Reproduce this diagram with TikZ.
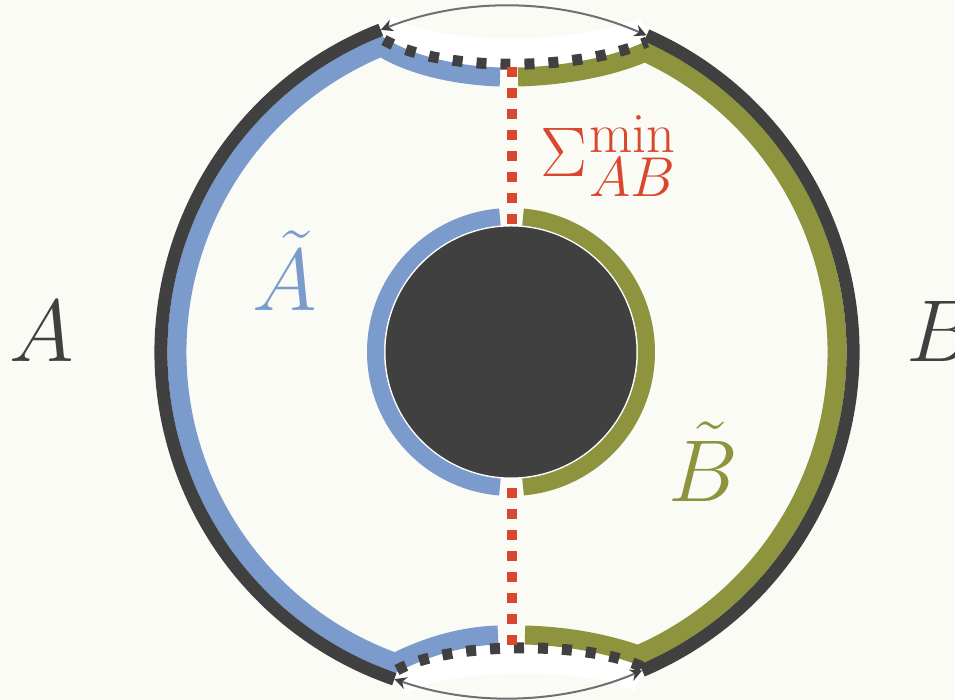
\RequirePackage{fix-cm}
\documentclass[tikz,border=0pt]{standalone}
\usepackage{tikz}
\usetikzlibrary{arrows.meta, calc}

\definecolor{bgpaper}{HTML}{FAFBF5}
\definecolor{darkline}{HTML}{404040}
\definecolor{regionA}{HTML}{7A9BCB}
\definecolor{regionB}{HTML}{8D943D}
\definecolor{surface}{HTML}{D9482E}
\definecolor{thinarc}{HTML}{707070}

\newcommand{\scriptbig}[1]{\hbox{\fontsize{32}{36}\selectfont$#1$}}

\begin{document}
\begin{tikzpicture}[
    x=0.2mm, y=0.2mm,
    boundary/.style={draw=darkline, line width=2.6mm},
    band/.style={line width=3.8mm, line join=miter},
    ring/.style={line width=3.4mm},
    cutline/.style={draw=darkline, line width=2.2mm, dash pattern=on 2mm off 2.8mm},
    minsurf/.style={draw=surface, line width=2mm, dash pattern=on 2mm off 2.2mm},
    gapband/.style={draw=white, line width=7mm},
    outer/.style={draw=thinarc, line width=0.4mm, {Stealth[length=2.4mm, width=2.4mm, color=darkline]}-{Stealth[length=2.4mm, width=2.4mm, color=darkline]}},
    lbl/.style={inner sep=0pt, anchor=base, font=\fontsize{50}{60}\selectfont}
]

% Paper (fixes the picture size)
\useasboundingbox (-507,-348) rectangle (448,352);
\fill[bgpaper] (-507,-348) rectangle (448,352);

% End points of the cuts and kinks of the bands
\coordinate (cutTL) at (-123,312);
\coordinate (cutTR) at (140,310);
\coordinate (cutBL) at (-110,-318);
\coordinate (cutBR) at (135,-315);
\coordinate (kinkA) at (112.4:330);
\coordinate (kinkB) at (65.3:330);
\coordinate (endAtop) at (-7,275);
\coordinate (endAbot) at (-9,-283);
\coordinate (endBtop) at (11,275);
\coordinate (endBbot) at (18,-283);

% White strips under the dashed cuts
\draw[gapband] ($(cutTL)+(0,8)$) .. controls (-67,288) and (68,288) .. ($(cutTR)+(0,8)$);
\draw[gapband] ($(cutBL)+(0,-8)$) .. controls (-57,-297) and (83,-297) .. ($(cutBR)+(0,-8)$);

% Region A~ and B~ bands
\draw[band, regionA] (endAtop) .. controls (-40,276) and (-90,283) .. (kinkA)
    arc[start angle=112.4, end angle=250.2, radius=330]
    .. controls (-75,-292) and (-40,-284) .. (endAbot);
\draw[band, regionB] (endBtop) .. controls (50,276) and (100,283) .. (kinkB)
    arc[start angle=65.3, end angle=-66.6, radius=330]
    .. controls (95,-290) and (55,-284) .. (endBbot);

% Boundary regions A and B
\draw[boundary] (111.4:346) arc[start angle=111.4, end angle=251, radius=346];
\draw[boundary] (-67:346) arc[start angle=-67, end angle=66.2, radius=346];

% Dashed cuts
\draw[cutline] (cutTL) .. controls (-67,280) and (68,280) .. (cutTR);
\draw[cutline] (cutBL) .. controls (-57,-289) and (83,-289) .. (cutBR);

% Horizon and its two halves
\coordinate (hole) at (4,0);
\fill[darkline, draw=white, line width=0.2mm] (hole) circle[radius=126];
\draw[ring, regionA] ($(hole)+(94.7:135.5)$) arc[start angle=94.7, end angle=265.3, radius=135.5];
\draw[ring, regionB] ($(hole)+(-84.9:135.5)$) arc[start angle=-84.9, end angle=84.9, radius=135.5];

% Minimal surface
\draw[minsurf] (5,285) -- (5,127);
\draw[minsurf] (5,-136) -- (5,-295);

% Thin outer arcs
\draw[outer] (111.4:346) arc[start angle=111.4, end angle=66.2, radius=346];
\draw[outer] (251:346) arc[start angle=251, end angle=293, radius=346];

% Labels
\node[lbl, text=darkline] (labA) at (-465,-10) {$A$};
\node[lbl, text=darkline] (labB) at (434,-10) {$B$};
\node[lbl, text=regionA] (labAt) at (-222,41) {$\tilde{A}$};
\node[lbl, text=regionB] (labBt) at (196,-150) {$\tilde{B}$};
\node[lbl, anchor=base west, text=surface, font=\fontsize{40}{48}\selectfont] (labSigma) at (33,175)
    {$\Sigma$\kern1pt\rlap{\raisebox{4.8mm}{\scriptbig{\mathrm{min}}}}\raisebox{-4mm}{\scriptbig{AB}}};

\end{tikzpicture}
\end{document}
